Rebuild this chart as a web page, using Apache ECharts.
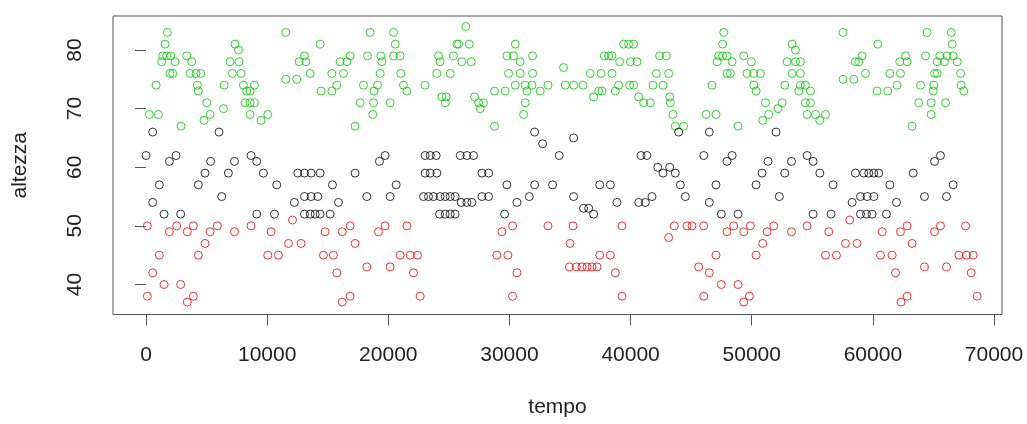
<!DOCTYPE html>
<html>
<head>
<meta charset="utf-8">
<title>altezza vs tempo</title>
<script src="https://cdn.jsdelivr.net/npm/echarts@6.0.0/dist/echarts.min.js"></script>
<style>
  html, body { margin: 0; padding: 0; background: #fff; }
  #chart { width: 1027px; height: 424px; }
</style>
</head>
<body>
<div id="chart"></div>
<script>
// Axis ticks
const xTicks = [0, 10000, 20000, 30000, 40000, 50000, 60000, 70000];
const yTicks = [40, 50, 60, 70, 80];

// Upper band (green): [tempo, altezza]
const greenPoints = [
  [280,69],[830,74],[1020,69],[1290,78],[1380,79],[1570,81],[1710,79],[1760,83],[1980,76],[2040,79],
  [2200,76],[2400,78],[2890,67],[3360,79],[3630,76],[3770,78],[4130,76],[4240,74],[4320,73],[4520,76],
  [4790,68],[5010,71],[5290,69],[6400,70],[6450,74],
  [6940,78],[7130,76],[7350,81],[7630,80],[7680,78],[7850,76],[8040,74],[8180,71],[8310,73],[8590,73],
  [8590,71],[8590,69],[8950,74],[8950,71],[9500,68],[10050,69],[11540,83],[11540,75],[12440,75],[12640,78],
  [13080,79],[13190,78],[13550,76],[14370,81],[14450,73],[15340,73],[15340,76],[15750,74],[16020,78],
  [16300,76],[16580,78],[16850,79],[17260,67],[17680,71],[17950,74],[18280,79],[18500,83],[18720,69],[18780,71],
  [18830,73],[19110,74],[19330,76],[19380,79],[19470,78],[20150,71],[20430,83],[20430,79],[20570,81],[20980,79],
  [21030,76],[21250,74],[21530,73],[23040,74],[24010,76],[24150,79],[24280,78],[24420,72],[24700,71],[24780,72],
  [25110,76],[25380,79],[25660,81],
  [25800,81],[26070,78],[26400,84],[26680,81],[26850,78],[27120,72],[27450,71],[27590,70],[27860,71],[28770,73],
  [28770,67],[29650,73],[29790,79],[29930,76],[30340,79],[30480,81],[30480,74],[30890,78],[30890,76],[31170,69],
  [31300,74],[31300,71],[31440,73],[31860,74],[31910,79],[31910,76],[32540,73],[33180,74],[34470,77],[34610,74],
  [35300,74],[36070,74],[36670,76],[36950,72],[37360,73],[37560,76],[37640,73],[37830,79],[38190,79],[38460,79],
  [38460,76],[38740,73],[39010,74],[39100,78],[39430,81],[39840,81],[39920,74],[39980,78],[40250,81],[40250,74],
  [40530,78],[40670,72],[41080,71],[41630,71],[41850,74],[42130,76],[42400,79],[42680,74],[42950,79],[43140,76],
  [43230,72],[43280,71],[43500,69],[43690,67],[44380,67],
  [46230,69],[46720,74],[47050,69],[47140,78],[47270,79],[47600,81],[47600,79],[47690,83],[47960,79],[47960,76],
  [48240,76],[48380,78],[48870,67],[49340,79],[49610,76],[49970,78],[50170,76],[50170,74],[50360,73],[50720,76],
  [50910,68],[51130,71],[51400,69],[52170,70],[52510,71],[52730,74],[52920,78],[53330,81],[53330,76],[53610,80],
  [53610,78],[53880,73],[54020,78],[54020,76],[54020,74],[54430,74],[54850,73],
  [54430,71],[54570,69],[54850,71],[55260,69],[55620,68],[56090,69],[57540,83],[57540,75],[58430,75],[58560,78],
  [58840,78],[59110,79],[59390,76],[60350,73],[60410,81],[61230,73],[61400,76],[62000,74],[62220,78],[62280,76],
  [62690,79],[62830,78],[63240,67],
  [63790,71],[63930,74],[64350,79],[64480,83],[64810,71],[64810,69],[64980,73],[65030,74],[65090,76],[65310,78],
  [65310,76],[65530,79],[65910,78],[66000,71],[66130,79],[66470,83],[66550,81],[66630,79],[66960,78],[67240,76],
  [67290,74],[67510,73]
];

// Middle band (black)
const blackPoints = [
  [0,62],[550,66],[550,54],[1100,57],[1490,52],[1930,61],[2480,62],[2860,52],[4320,57],[4870,59],
  [5340,61],[6030,66],[6250,55],
  [6800,59],[7300,61],[8670,62],[9140,61],[9140,52],[9690,59],[10600,52],[10790,57],[12250,54],[12530,59],
  [13080,59],[13080,55],[13080,52],[13550,52],[13630,59],[13630,55],[13960,52],[14180,55],[14370,59],[14370,52],
  [15200,52],[15390,57],[15890,54],
  [17260,59],[18230,55],[19270,61],[19740,62],[20150,55],[20650,57],[22910,55],[23040,62],[23040,59],[23320,55],
  [23460,62],[23460,59],[23730,55],[23950,62],[24010,59],[24230,52],[24280,55],[24700,55],[24700,52],[25110,55],
  [25110,52],[25520,55],[25520,52],
  [25940,62],[26020,54],[26490,62],[26490,54],[26900,54],[27040,62],[27730,59],[27730,55],[28280,59],[28280,55],
  [29600,52],[29790,57],[30620,54],[31640,55],[32080,66],[32080,57],[32740,64],[33560,57],[34110,62],[35300,65],
  [35300,55],
  [36120,53],[36540,53],[36950,52],[37450,57],[38330,57],[38880,54],[40670,54],[40860,62],[41220,54],[41350,62],
  [41770,55],[42240,60],[42680,59],[43230,60],[43690,59],[43970,66],[44110,57],[44520,55],
  [46040,62],[46500,66],[46500,54],[47050,57],[47490,52],[47960,61],[48380,62],[48870,52],[50360,57],[50850,59],
  [51350,61],[52010,66],[52280,55],[52730,59],[53280,61],
  [54570,62],[55070,61],[55070,52],[55620,59],[56550,52],[56720,57],[58290,54],[58560,59],[58980,55],[58980,52],
  [59250,59],[59470,52],[59530,55],[59660,59],[59940,52],[60080,59],[60080,55],[60490,59],[61120,52],[61400,57],
  [61950,54],[63330,59],
  [64260,55],[65090,61],[65580,62],[66080,55],[66630,57]
];

// Lower band (red)
const redPoints = [
  [110,50],[110,38],[550,42],[1100,45],[1490,40],[1930,49],[2530,50],[2860,40],[3410,49],[3410,37],
  [3910,50],[3910,38],[4320,45],[4870,47],[5290,49],[5890,50],
  [7300,49],[8670,50],[10050,45],[10320,49],[10930,45],[11760,47],[12090,51],[12800,47],[14650,45],[14780,49],
  [15470,45],[15750,42],[16200,49],[16200,37],
  [16850,50],[16850,38],[17260,47],[18230,43],[19190,49],[19740,50],[20150,43],[20980,45],[21530,50],[21810,45],
  [22080,42],[22410,45],[22630,38],
  [28960,45],[29380,49],[29870,45],[30260,50],[30260,38],[30620,42],[33180,50],[34950,43],[35000,47],[35250,50],
  [35520,43],[35990,43],[36400,43],[36810,43],[37230,43],[37450,45],[38330,45],[38740,42],[39290,50],[39290,38],
  [43140,48],[43610,50],[44660,50],
  [45070,50],[45620,43],[46040,50],[46040,38],[46500,42],[47050,45],[47490,40],[47960,49],[48510,50],[48870,40],
  [49340,49],[49340,37],[49810,38],[49890,50],[50360,45],[50910,47],[51270,49],[51820,50],[53280,49],
  [54570,50],[56090,45],[56360,49],[56990,45],[57740,47],[58090,51],[58700,47],[60630,45],[60770,49],[61590,45],
  [61870,42],[62280,49],[62330,37],[62830,50],[62830,38],[63240,47],
  [64260,43],[65090,49],[65580,50],[66080,43],[67100,45],[67650,50],[67730,45],[68120,42],[68280,45],[68610,38]
];

const FONT = '"Liberation Sans", Arial, sans-serif';
const TEXT = '#222';
const FRAME = '#555';

// open circles, transparent inside so overlapping rings stay visible
function ringSeries(data, color) {
  return {
    type: 'scatter',
    data: data,
    symbol: 'circle',
    symbolSize: 8,
    itemStyle: { color: 'rgba(0,0,0,0)', borderColor: color, borderWidth: 1 },
    emphasis: { disabled: true },
    silent: true
  };
}

const plainNumber = v => String(v);

const chart = echarts.init(document.getElementById('chart'), null, { renderer: 'canvas' });
chart.setOption({
  animation: false,
  backgroundColor: '#fff',
  grid: {
    left: 113, right: 25, top: 16, bottom: 109.5,
    show: true, borderColor: FRAME, borderWidth: 1, backgroundColor: 'rgba(0,0,0,0)'
  },
  xAxis: {
    type: 'value',
    min: -2725, max: 70660,
    name: 'tempo',
    nameLocation: 'middle',
    nameGap: 82,
    nameTextStyle: { fontFamily: FONT, fontSize: 21, color: TEXT },
    axisLine: { show: false },
    splitLine: { show: false },
    axisTick: { show: true, length: 11, lineStyle: { color: FRAME }, customValues: xTicks },
    axisLabel: { customValues: xTicks, formatter: plainNumber, fontFamily: FONT, fontSize: 21, color: TEXT, margin: 30 }
  },
  yAxis: {
    type: 'value',
    min: 34.88, max: 85.8,
    name: 'altezza',
    nameLocation: 'middle',
    nameGap: 82,
    nameRotate: 90,
    nameTextStyle: { fontFamily: FONT, fontSize: 21, color: TEXT },
    axisLine: { show: false },
    splitLine: { show: false },
    axisTick: { show: true, length: 11, lineStyle: { color: FRAME }, customValues: yTicks },
    axisLabel: { customValues: yTicks, formatter: plainNumber, rotate: 90, fontFamily: FONT, fontSize: 21, color: TEXT, margin: 27 }
  },
  series: [
    ringSeries(greenPoints, '#00C800'),
    ringSeries(blackPoints, '#000000'),
    ringSeries(redPoints, '#F00000')
  ]
});
</script>
</body>
</html>
